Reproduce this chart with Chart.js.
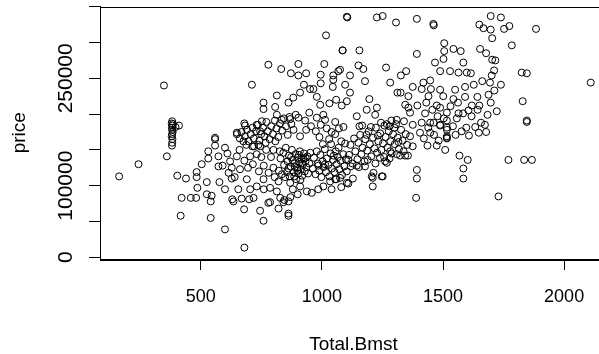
<!DOCTYPE html>
<html><head><meta charset="utf-8">
<script src="https://cdn.jsdelivr.net/npm/chart.js@4"></script>
<style>
html,body{margin:0;padding:0;background:#fff;overflow:hidden;width:599px;height:354px}
#wrap{width:599px;height:354px;overflow:hidden;position:relative;background:#fff}
canvas{position:absolute;left:0;top:0}
</style></head>
<body><div id="wrap"><canvas id="c" width="612" height="354"></canvas></div>
<script>
// Total.Bmst vs price observations, grouped by region of the cloud
const groupLowLeft = [
[163,113000],[243,130000],[348,240000],[360,141000],
[382,190000],[380,187000],[383,184000],[381,181000],[382,178000],[384,175000],[382,172000],[380,169000],[383,165000],[382,160000],[381,156000],[410,184000],[396,182000],[385,186000],
[403,114000],[439,110000],[421,83000],[459,83000],[481,83000],[417,58000],[483,119000],[483,112000],[486,97000],[504,130000],[525,105000],[525,88000],[545,86000],[541,78000],[541,55000],[531,148000],[531,138000],[559,167000],[559,165000],[559,156000],[573,141000],[573,127000],[577,105000],[600,153000],[600,95000],[600,39000],[621,134000],[628,125000],[628,110000],[640,112000],[649,141000],[649,172000],[649,174000],[662,123000],[676,162000],[680,187000],[683,184000],[680,13500],[690,109000],[704,95000],[718,83000],[679,67000],[635,78000],[630,81000],[669,82000],[700,81000],[704,141000],[731,144000],[759,51000],[745,65000],[786,77000],[821,68000],[841,77000],[862,78000],[862,61000],[862,58000],[731,99000],[759,109000],[786,97000],[814,92000],[821,106000],[869,104000],[910,99000],[938,92000],[958,90000],[1006,99000],[1034,106000],[1059,109000],[1103,104000],[779,76000],[828,83000],[845,80000],[870,84000],[655,95000],[615,118000],[590,128000],[610,145000],[660,150000],[680,135000],[695,125000],[715,130000],[740,120000],[760,128000],[780,118000],[800,125000],[790,140000],[770,150000],[750,140000],[720,155000],[745,155000],[800,150000],[805,112000],[760,95000],[880,95000],[900,88000],[985,95000],[1040,95000],[1080,98000]
];
const groupUpperBand = [
[779,269000],[832,263000],[903,270000],[1010,270000],[872,257000],[903,254000],[935,257000],[995,255000],[1047,254000],[1068,260000],[1047,248000],[1045,238000],[995,243000],[951,235000],[965,235000],[1096,241000],[711,241000],[926,241000],[910,230000],[882,223000],[862,216000],[979,224000],[993,213000],[1059,220000],[1031,215000],[1082,212000],[814,226000],[759,216000],[759,207000],[807,210000],[814,199000],[834,192000],[869,193000],[903,195000],[931,191000],[948,202000],[979,195000],[1006,199000],[1013,192000],[1055,189000],[1089,182000],[1055,172000],[910,169000],[752,190000],[731,185000],[745,176000],[1017,310000],[1085,289000],[1103,336000],
[661,166000],[668,175000],[682,169000],[691,178000],[697,162000],[706,172000],[714,181000],[719,166000],[728,176000],[736,185000],[742,163000],[749,172000],[757,181000],[763,169000],[771,189000],[777,176000],[784,165000],[791,183000],[798,172000],[806,191000],[813,180000],[820,168000],[827,187000],[836,177000],[843,194000],[852,183000],[859,171000],[866,196000],[874,186000],[883,178000],[892,199000],[688,157000],[713,155000],[738,157000],[768,160000],[808,162000],
[935,178000],[955,183000],[975,176000],[995,185000],[1020,180000],[1040,175000],[1070,180000],[990,168000],[1030,165000],[1080,162000]
];
const groupCentre = [
[822,121000],[829,138000],[835,116000],[841,146000],[844,129000],[851,153000],[856,119000],[858,134000],[864,142000],[867,113000],[871,127000],[876,150000],[879,136000],[884,119000],[887,131000],[891,144000],[894,109000],[898,125000],[901,139000],[903,117000],[907,133000],[909,148000],[913,123000],[916,137000],[919,114000],[921,129000],[926,145000],[929,120000],[932,134000],[936,126000],[940,141000],[943,117000],[948,131000],[952,146000],[862,124000],[873,140000],[889,126000],[905,143000],[918,131000],[933,139000],[848,112000],[886,113000],[911,108000],[826,148000],[899,121000],[924,138000],
[963,124000],[967,139000],[974,116000],[979,148000],[983,131000],[989,121000],[994,143000],[998,112000],[1003,134000],[1007,126000],[1012,151000],[1017,119000],[1021,138000],[1027,129000],[1031,113000],[1036,145000],[1041,124000],[1046,136000],[1052,119000],[1057,148000],[1061,130000],[1066,140000],[1072,123000],[1077,135000],[1083,115000],[1088,144000],[1093,127000],[1099,137000],[1103,120000],[1004,158000],[1038,158000],[1069,153000],[1096,159000],[1013,130000],[1049,142000],[985,128000]
];
const groupMidRight = [
[1112,143000],[1118,157000],[1126,131000],[1133,166000],[1138,148000],[1147,137000],[1151,160000],[1158,171000],[1163,144000],[1168,153000],[1176,134000],[1179,165000],[1187,149000],[1193,176000],[1198,158000],[1204,141000],[1211,167000],[1217,152000],[1223,181000],[1228,146000],[1233,162000],[1241,173000],[1246,150000],[1252,159000],[1258,184000],[1263,168000],[1271,153000],[1276,176000],[1283,162000],[1288,145000],[1294,172000],[1301,158000],[1306,186000],[1313,167000],[1318,151000],[1327,178000],[1333,163000],[1339,190000],[1346,172000],[1352,157000],[1119,127000],[1153,126000],[1189,136000],[1221,131000],[1257,140000],[1279,138000],[1309,144000],[1337,148000],[1166,184000],[1202,182000],[1244,188000],[1287,191000],[1184,171000],[1231,170000],[1268,186000],[1299,181000],
[1678,175000],[1846,189000],[1770,136000],[1835,136000],[1867,136000],[1729,85000],[1568,142000],[1602,136000],[1584,124000],[1584,110000],[1392,122000],[1392,110000],[1389,83000],[1436,156000],[1474,156000],[1509,150000],[1516,167000],[1516,178000],[1488,185000],[1251,113000],[1210,99000],[1210,111000],[1109,103000],[1128,110000],[1268,132000],[1240,139000],[1213,118000],[1178,127000],[1144,128000],[1109,136000],[1323,142000],[1344,142000],[1355,142000],[1075,111000],
[1426,201000],[1461,188000],[1447,174000],[1405,174000],[1364,169000],[1316,161000],[1375,155000],[1282,148000],[1261,134000],[1206,113000],[1247,113000],[1055,109000],[1516,166000]
];
const groupUpperRight = [
[1105,335000],[1227,335000],[1251,337000],[1306,328000],[1392,333000],[1460,326000],[1462,324000],[1650,325000],[1667,320000],[1697,337000],[1739,335000],[1697,318000],[1774,323000],[1752,319000],[1884,319000],[1703,306000],[1784,296000],[1086,289000],[1155,289000],[1392,284000],[1505,299000],[1505,288000],[1543,291000],[1573,288000],[1653,291000],[1678,285000],[1703,276000],[1716,275000],[1502,277000],[1467,272000],[1584,272000],[1151,268000],[1171,263000],[1265,265000],[1075,262000],[1116,254000],[1178,246000],[1326,254000],[1348,260000],[1488,260000],[1529,260000],[1564,258000],[1598,258000],[1615,257000],[1711,261000],[1701,254000],[1694,244000],[1739,241000],[1825,258000],[1846,257000],[2110,244000],[1829,218000],[1846,191000],[1282,244000],[1375,238000],[1419,244000],[1447,247000],[1412,235000],[1450,235000],[1488,234000],[1550,234000],[1591,238000],[1501,225000],[1543,221000],[1591,224000],[1642,224000],[1312,230000],[1325,230000],[1357,225000],[1394,212000],[1440,225000],[1474,212000],[1488,209000],[1564,201000],[1605,205000],[1619,212000],[1650,212000],[1516,202000],[1516,191000],[1196,221000],[1116,230000],[1103,218000],[1185,206000],[1227,209000],[1220,199000],[1344,213000],[1357,209000],[1364,202000],[1309,192000],[1279,183000],[1155,183000],[1144,197000],[1412,188000],[1447,188000],[1375,185000],[1488,184000],[1516,181000],[1516,169000],
[1541,183000],[1557,194000],[1583,201000],[1596,181000],[1618,197000],[1643,206000],[1657,188000],[1684,199000],[1697,216000],[1722,204000],[1552,171000],[1577,176000],[1607,170000],[1633,182000],[1648,174000],[1673,185000],[1688,227000],[1712,233000],[1627,241000],[1662,246000],[1531,211000],[1562,216000],[1478,197000],[1503,194000],[1456,206000],[1431,216000],[1463,171000],[1482,163000],[1439,181000],[1421,166000]
];

const xTicks = [500, 1000, 1500, 2000];
const xTickLabels = ['500', '1000', '1500', '2000'];
const yTicks = [0, 50000, 100000, 150000, 200000, 250000, 300000, 350000];
const yTickLabels = ['0', '', '100000', '', '', '250000', '', ''];
const xTitle = 'Total.Bmst';
const yTitle = 'price';

const allObs = [].concat(groupLowLeft, groupUpperBand, groupCentre, groupMidRight, groupUpperRight)
  .map(p => ({x: p[0], y: p[1]}));

const FONT = '"Liberation Sans", Arial, sans-serif';

const rStyle = {
  id: 'rStyle',
  afterDraw(chart) {
    const {ctx, chartArea: a, scales: {x, y}} = chart;
    ctx.save();
    ctx.strokeStyle = '#000';
    ctx.lineWidth = 1;
    ctx.strokeRect(Math.round(a.left) + 0.5, Math.round(a.top) + 0.5, Math.round(a.right - a.left), Math.round(a.bottom - a.top));
    ctx.fillStyle = '#000';
    ctx.font = '18px ' + FONT;
    ctx.textAlign = 'center';
    ctx.textBaseline = 'alphabetic';
    xTicks.forEach((v, i) => ctx.fillText(xTickLabels[i], x.getPixelForValue(v), 301.5));
    ctx.font = '21px ' + FONT;
    yTicks.forEach((v, i) => {
      if (!yTickLabels[i]) return;
      ctx.save();
      ctx.translate(71.5, y.getPixelForValue(v));
      ctx.rotate(-Math.PI / 2);
      ctx.fillText(yTickLabels[i], 0, 0);
      ctx.restore();
    });
    ctx.font = '19px ' + FONT;
    ctx.fillText(xTitle, (a.left + a.right) / 2, 350);
    ctx.save();
    ctx.translate(25, (a.top + a.bottom) / 2);
    ctx.rotate(-Math.PI / 2);
    ctx.fillText(yTitle, 0, 0);
    ctx.restore();
    ctx.restore();
  }
};

new Chart(document.getElementById('c'), {
  type: 'scatter',
  data: {
    datasets: [{
      data: allObs,
      pointStyle: 'circle',
      pointRadius: 3.5,
      pointBorderWidth: 1,
      pointBorderColor: '#000',
      pointBackgroundColor: 'rgba(0,0,0,0)',
      pointHoverRadius: 3.5
    }]
  },
  options: {
    responsive: false,
    animation: false,
    events: [],
    layout: {padding: {top: 6.5, right: 5, left: 0, bottom: 0}},
    plugins: {legend: {display: false}, tooltip: {enabled: false}},
    scales: {
      x: {
        type: 'linear', min: 84, max: 2177,
        afterBuildTicks: s => { s.ticks = xTicks.map(v => ({value: v})); },
        afterFit: s => { s.height = 95; },
        grid: {drawOnChartArea: false, drawTicks: true, tickLength: 11, color: '#000', lineWidth: 1},
        border: {display: true, color: '#000', width: 1},
        ticks: {display: false}
      },
      y: {
        type: 'linear', min: -2400, max: 350300,
        afterBuildTicks: s => { s.ticks = yTicks.map(v => ({value: v})); },
        afterFit: s => { s.width = 100; },
        grid: {drawOnChartArea: false, drawTicks: true, tickLength: 11, color: '#000', lineWidth: 1},
        border: {display: true, color: '#000', width: 1},
        ticks: {display: false}
      }
    }
  },
  plugins: [rStyle]
});
</script>
</body></html>
